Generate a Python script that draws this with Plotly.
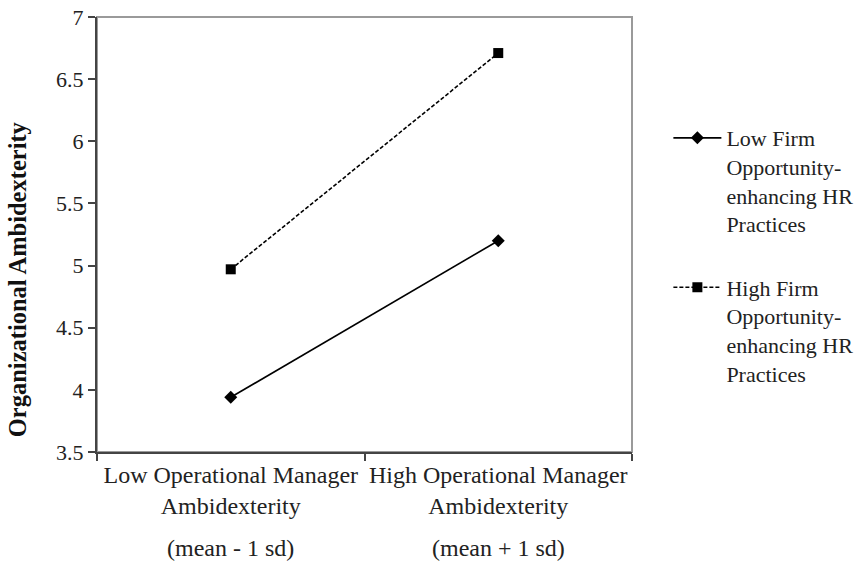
import plotly.graph_objects as go

categories = ["Low Operational Manager<br>Ambidexterity", "High Operational Manager<br>Ambidexterity"]
sublabels = ["(mean - 1 sd)", "(mean + 1 sd)"]
series_names = ["Low Firm<br>Opportunity-<br>enhancing HR<br>Practices",
                "High Firm<br>Opportunity-<br>enhancing HR<br>Practices"]
y_title = "Organizational Ambidexterity"
low_firm = [3.94, 5.20]
high_firm = [4.97, 6.71]
y_ticks = [3.5, 4, 4.5, 5, 5.5, 6, 6.5, 7]
y_ticktext = ["3.5", "4", "4.5", "5", "5.5", "6", "6.5", "7"]

FONT = "Liberation Serif, Times New Roman, serif"

fig = go.Figure()
fig.add_trace(go.Scatter(
    x=categories, y=low_firm, name=series_names[0], mode="lines+markers",
    legendgroup="a",
    line=dict(color="black", width=1.6),
    marker=dict(symbol="diamond", size=10, color="black"),
))
fig.add_trace(go.Scatter(
    x=categories, y=high_firm, name=series_names[1], mode="lines+markers",
    legendgroup="b",
    line=dict(color="black", width=1.6, dash="4px,2px"),
    marker=dict(symbol="square", size=10, color="black"),
))

# gray frame on top/right
fig.add_shape(type="rect", xref="paper", yref="paper", x0=0, x1=1, y0=0, y1=1,
              line=dict(color="#9a9a9a", width=2), layer="below")

for cat, sub in zip(categories, sublabels):
    fig.add_annotation(x=cat, xref="x", y=-0.221, yref="paper", text=sub,
                       showarrow=False, yanchor="middle",
                       font=dict(family=FONT, size=24, color="#222"))

fig.add_annotation(x=-0.147, xref="paper", y=0.398, yref="paper",
                   text="<b>" + y_title + "</b>", textangle=-90,
                   showarrow=False, xanchor="center", yanchor="middle",
                   font=dict(family=FONT, size=24.5, color="#111"))

fig.update_layout(
    width=867, height=563,
    margin=dict(l=97, r=235, t=17, b=111, autoexpand=False),
    paper_bgcolor="white", plot_bgcolor="white",
    font=dict(family=FONT, size=22, color="#222"),
    showlegend=True,
    legend=dict(x=1.068, y=0.77, xanchor="left", yanchor="top",
                valign="top", tracegroupgap=32, traceorder="grouped",
                itemwidth=48,
                font=dict(family=FONT, size=22, color="#222"),
                bgcolor="rgba(0,0,0,0)"),
    xaxis=dict(type="category", tickson="boundaries", range=[-0.5, 1.5],
               automargin=False, tickangle=0,
               showline=True, linecolor="#444", linewidth=2,
               ticks="outside", ticklen=7, tickcolor="#444", tickwidth=1.5,
               showgrid=False, zeroline=False,
               tickfont=dict(family=FONT, size=24, color="#222")),
    yaxis=dict(range=[3.5, 7], tickvals=y_ticks, ticktext=y_ticktext,
               automargin=False, ticklabeloverflow="allow",
               showline=True, linecolor="#444", linewidth=2,
               ticks="outside", ticklen=7, tickcolor="#444", tickwidth=1.5,
               showgrid=False, zeroline=False,
               tickfont=dict(family=FONT, size=22, color="#222")),
)

fig.write_html("out.html",
               config={"displayModeBar": False},
               post_script="document.body.style.margin='0';document.body.style.overflow='hidden';")
